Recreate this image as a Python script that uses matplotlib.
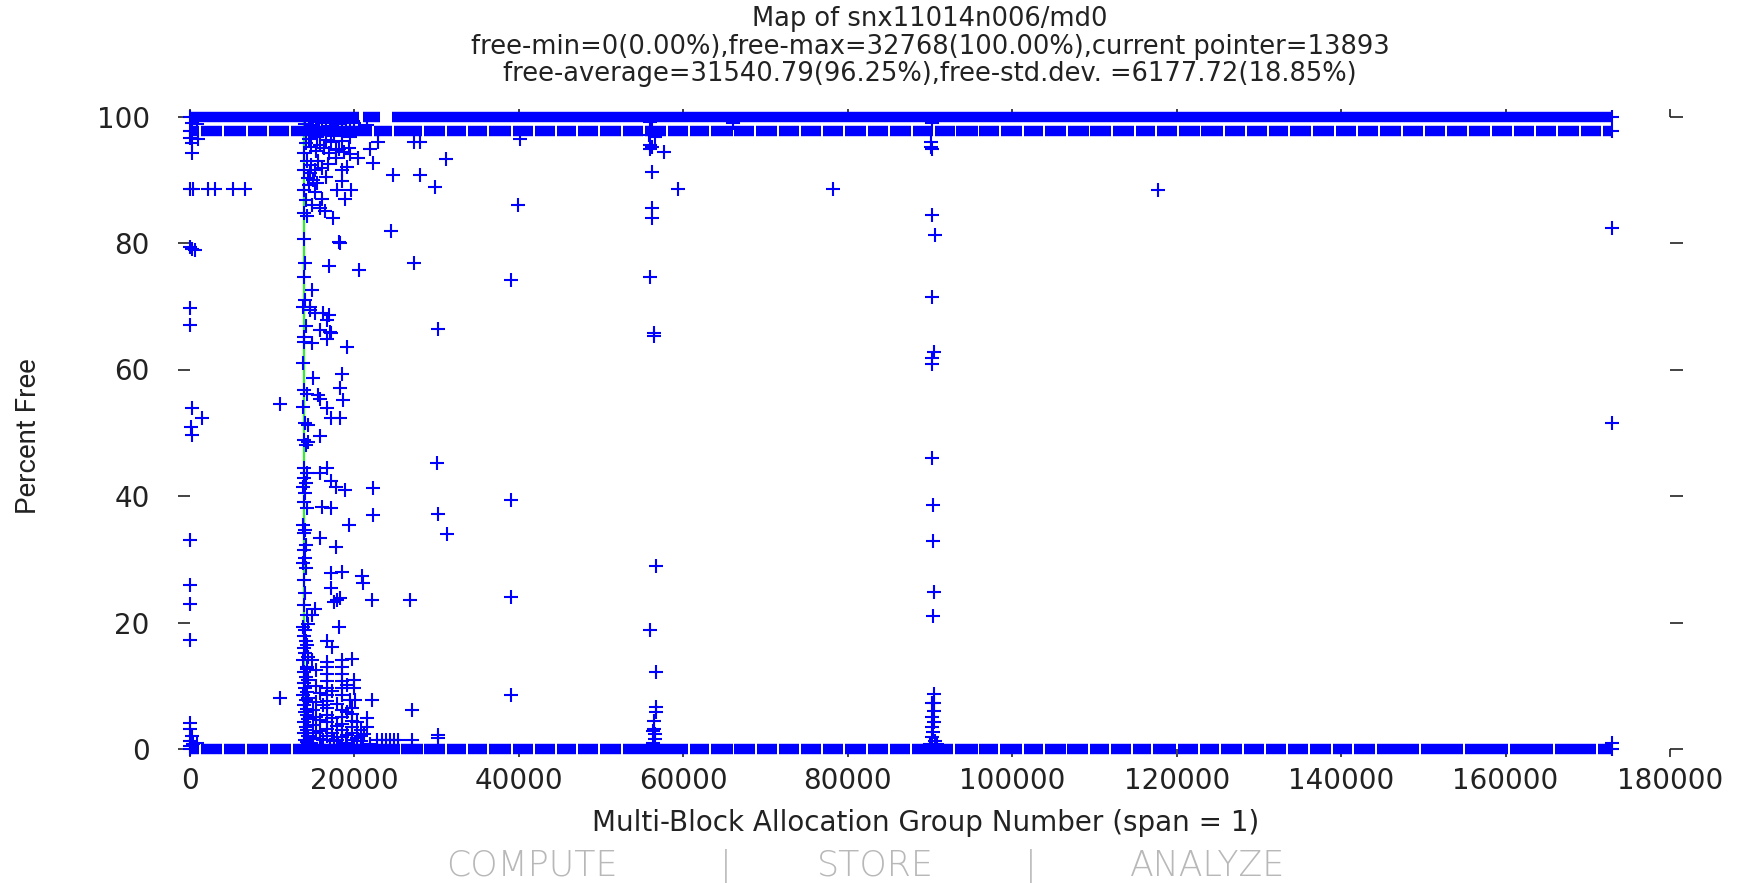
import matplotlib.pyplot as plt

title_lines = [
    "Map of snx11014n006/md0",
    "free-min=0(0.00%),free-max=32768(100.00%),current pointer=13893",
    "free-average=31540.79(96.25%),free-std.dev. =6177.72(18.85%)",
]
x_label = "Multi-Block Allocation Group Number (span = 1)"
y_label = "Percent Free"
footer_words = ["COMPUTE", "|", "STORE", "|", "ANALYZE"]

current_pointer = 13893
last_group = 172900

# long runs of groups sitting at one fill level (drawn as solid runs of markers)
level_full = 100.0
level_97 = 97.66
level_empty = 0.0
gaps_full = [(20500, 21100), (23100, 24600)]
gaps_97 = [1200, 4000, 6900, 9500, 12200, 22200, 24700, 28300, 31100, 33700,
           36300, 39200, 41800, 44500, 47100, 49800, 52500, 55200, 58000, 60700,
           63300, 66100, 68700, 71500, 74200, 76900, 79500, 82300, 85000, 87800,
           90500, 93100, 95900, 98500, 101300, 103900, 106700, 109400, 112100,
           114900, 117500, 120200, 122900, 125700, 128400, 131100, 133700, 136500,
           139200, 141900, 144600, 147400, 150100, 152700, 155400, 158200, 160900,
           163600, 166300, 169100, 171700]
gaps_empty = [1200, 4000, 6800, 9600, 12400, 25600, 28400, 31100, 33700, 36300,
              39200, 41800, 44500, 47100, 49800, 52500, 60700, 63300, 66100, 68800,
              71500, 74200, 76900, 79500, 82300, 85000, 87700, 92900, 95900, 98400,
              101300, 103900, 106600, 109300, 111900, 114600, 117000, 120000, 122700,
              125300, 128100, 130800, 133400, 136100, 138900, 141500, 144300, 149600,
              155000, 160400, 165900, 171100]

# scattered groups (x = group number, y = percent free)
near_origin = [(200, 99.0), (800, 98.8), (0, 96.6), (1000, 96.4), (200, 95.8),
               (200, 94.2), (0, 88.5), (400, 88.5), (2200, 88.5), (3000, 88.5),
               (5200, 88.5), (6700, 88.5), (0, 79.4), (300, 79.1), (600, 78.9),
               (0, 69.7), (0, 67.0), (200, 53.9), (1500, 52.3), (100, 50.9),
               (200, 49.6), (0, 33.0), (0, 25.9), (0, 22.9), (0, 17.3), (0, 4.1),
               (0, 3.2), (200, 2.0), (0, 1.2), (400, 0.8), (800, 1.0), (0, 0.5),
               (11000, 54.6), (11000, 8.0)]

pointer_column = [(14100, 95.8), (13900, 94.2), (14200, 92.9), (13900, 91.5),
                  (14300, 90.2), (13900, 88.4), (14100, 86.8), (13900, 84.7),
                  (14200, 84.2), (13900, 80.7), (14000, 76.8), (13900, 74.7),
                  (14000, 71.0), (13800, 69.9), (14100, 66.8), (13900, 65.2),
                  (13900, 64.4), (13800, 61.0), (13900, 56.8), (14200, 56.2),
                  (13800, 54.1), (14000, 51.5), (14300, 51.2), (13900, 48.9),
                  (14100, 48.1), (13900, 44.4), (14200, 43.6), (13900, 42.8),
                  (14100, 42.0), (13800, 41.5), (14000, 40.4), (13900, 39.1),
                  (14200, 38.1), (13800, 35.4), (14000, 34.6), (13900, 34.1),
                  (14100, 32.3), (13900, 31.5), (14000, 30.2), (13800, 29.4),
                  (14100, 28.6), (13900, 26.7), (14000, 24.6), (13900, 22.8),
                  (14200, 21.2), (13800, 19.3), (14000, 18.8), (13900, 17.8),
                  (14100, 17.0), (13900, 15.9), (14000, 15.1), (13800, 14.1),
                  (14200, 13.0), (13900, 12.2), (14100, 11.4), (13900, 10.4),
                  (14000, 9.6), (13800, 8.5), (14100, 7.8), (13900, 7.0),
                  (14000, 5.9), (14200, 5.4), (13900, 4.3), (14100, 3.5),
                  (13900, 2.5), (14000, 1.4), (14300, 0.8), (14300, 19.8),
                  (14200, 16.5), (14300, 14.6), (14200, 12.6), (14300, 10.9),
                  (14200, 9.0), (14300, 8.1), (14200, 6.4), (14300, 4.8),
                  (14200, 3.0), (14300, 2.0), (14200, 1.1)]

pointer_spread = [(14000, 98.8), (15000, 98.6), (16000, 99.0), (17000, 98.5),
                  (18000, 98.8), (19000, 98.4), (20000, 99.0), (21500, 98.6),
                  (14500, 99.3), (15500, 99.1), (16500, 98.2), (17500, 99.2),
                  (18500, 98.1), (19500, 99.1), (20500, 98.3), (15800, 97.2),
                  (14500, 96.5), (15500, 96.8), (16500, 96.3), (17500, 96.9),
                  (18500, 96.2), (19500, 96.7), (15800, 95.5), (17100, 96.0),
                  (19300, 95.0), (18100, 94.9), (17700, 94.7), (18700, 94.4),
                  (14700, 95.2), (15300, 94.6), (16300, 95.0), (16900, 94.3),
                  (21900, 94.9), (22900, 96.0), (22300, 92.6), (15600, 93.0),
                  (16800, 92.5), (17800, 93.5), (19100, 92.0), (19500, 94.0),
                  (20400, 93.5), (14600, 91.0), (15000, 90.0), (15400, 89.5),
                  (14700, 92.4), (15200, 91.6), (16100, 91.8), (14500, 89.1),
                  (16600, 90.4), (18500, 89.8), (18500, 91.5), (15200, 88.0),
                  (17900, 88.4), (19600, 88.4), (18800, 87.0), (16000, 87.0),
                  (14800, 86.0), (15800, 85.5), (16400, 85.0), (17400, 84.0),
                  (18100, 80.2), (18300, 80.0), (16900, 76.4), (20600, 75.7),
                  (14800, 72.5), (14600, 69.9), (14600, 69.4), (15200, 68.9),
                  (16200, 68.9), (16900, 68.6), (16700, 67.8), (15800, 66.2),
                  (17000, 66.0), (17100, 65.7), (16700, 64.9), (14800, 64.2),
                  (19100, 63.6), (15000, 58.6), (18500, 59.3), (18300, 57.0),
                  (15600, 56.0), (15800, 55.3), (18600, 55.2), (16700, 53.9),
                  (17100, 52.4), (18300, 52.4), (15800, 49.5), (14400, 48.6),
                  (16700, 44.4), (15800, 43.6), (17100, 42.3), (17700, 41.5),
                  (18900, 40.9), (16000, 38.3), (17100, 38.1), (19300, 35.4),
                  (15800, 33.3), (17700, 32.0), (17100, 27.8), (18500, 28.0),
                  (20900, 27.3), (21100, 26.2), (17100, 25.4), (17900, 23.6),
                  (17500, 23.3), (18300, 23.8), (15200, 22.2), (14800, 21.2),
                  (18100, 19.3), (16700, 17.0), (17300, 16.2), (14800, 14.1),
                  (16700, 13.8), (19700, 14.3), (19900, 10.9), (19900, 9.6),
                  (19500, 7.8), (20100, 7.8), (21500, 4.9), (21500, 3.5),
                  (22100, 7.7), (22300, 41.2), (22300, 37.0), (22100, 23.5)]

pointer_floor = [(16700, 13.0), (16700, 11.8), (16700, 10.8), (16700, 9.7),
                 (16700, 8.6), (16700, 7.6), (16700, 6.5), (16700, 5.4),
                 (16700, 4.3), (16700, 3.2), (16700, 2.1), (18500, 14.1),
                 (18500, 13.0), (18500, 11.9), (18500, 10.8), (18500, 9.6),
                 (18500, 8.5), (18500, 6.2), (18500, 5.1), (18500, 4.0),
                 (18500, 3.0), (18500, 1.9), (15300, 12.5), (15300, 10.0),
                 (15300, 7.5), (15300, 5.0), (15300, 2.5), (19700, 6.5),
                 (19700, 5.5), (19700, 4.5), (19700, 3.5), (19700, 2.5),
                 (19700, 1.5), (20800, 3.0), (20800, 2.0), (20800, 1.2),
                 (14900, 6.2), (14900, 3.8), (14900, 1.8), (15800, 8.8),
                 (15800, 4.6), (15800, 2.9), (16200, 6.9), (16200, 1.4),
                 (17300, 9.2), (17300, 4.9), (17300, 2.6), (17900, 7.1),
                 (17900, 3.6), (17900, 1.5), (19100, 10.1), (19100, 5.8),
                 (19100, 2.2), (20300, 4.2), (20300, 1.8), (21200, 2.4),
                 (14700, 1.0), (15800, 1.6), (17500, 1.2), (19000, 0.9),
                 (15000, 0.6), (16000, 0.5), (17000, 0.7), (18000, 0.6),
                 (20000, 0.7), (21000, 0.6), (21900, 0.8),
                 (22800, 1.4), (23300, 1.4), (23800, 1.4), (24300, 1.4),
                 (24800, 1.4), (25300, 1.4)]

middle_groups = [(24700, 90.7), (28000, 90.7), (29800, 88.8), (31100, 93.3),
                 (24500, 81.9), (27200, 76.9), (30200, 66.4), (30000, 45.2),
                 (30200, 37.2), (31300, 34.0), (26800, 23.5), (27000, 6.2),
                 (30200, 2.2), (30200, 1.7), (27000, 1.4), (27200, 96.0),
                 (28000, 96.0), (39100, 74.2), (39900, 86.0), (39100, 39.3),
                 (39100, 24.1), (39100, 8.5), (40100, 96.5)]

column_56k = [(55800, 97.0), (56200, 98.2), (56500, 96.8), (56000, 99.2),
              (56000, 95.5), (56000, 94.9), (56200, 95.2), (57700, 94.4),
              (56200, 91.3), (59300, 88.5), (56200, 85.5), (56200, 84.0),
              (56000, 74.6), (56400, 65.8), (56400, 65.3), (56700, 29.0),
              (56000, 18.8), (56700, 12.2), (56700, 6.7), (56700, 5.8),
              (56400, 4.5), (56400, 3.2), (56500, 2.3), (56500, 1.6),
              (56300, 2.8), (56300, 1.0)]

column_90k = [(90300, 99.0), (90100, 96.0), (90100, 95.2), (90300, 94.9),
              (90200, 84.4), (90600, 81.2), (90200, 71.5), (90200, 61.8),
              (90500, 62.7), (90200, 60.9), (90200, 46.0), (90400, 38.6),
              (90400, 32.9), (90500, 24.9), (90400, 21.0), (90500, 8.7),
              (90500, 7.3), (90300, 7.2), (90500, 6.0), (90300, 5.0),
              (90500, 4.3), (90300, 3.5), (90400, 2.7), (90200, 1.9),
              (90600, 1.2), (90000, 0.8), (90800, 0.8)]

far_groups = [(66100, 99.0), (78200, 88.5), (117700, 88.4), (172900, 82.3),
              (172900, 51.6), (172900, 0.9)]

BLUE = "#0000ff"
INK = "#222222"

fig = plt.figure(figsize=(17.39, 8.83), dpi=100)
ax = fig.add_axes([190 / 1739, 1 - 749 / 883, 1480 / 1739, 632.5 / 883])
ax.set_xlim(0, 180000)
ax.set_ylim(0, 100)

ax.axvline(current_pointer, color="#33ee33", lw=1.6, zorder=1)


def runs(gaps):
    edges = [0] + [v for g in gaps for v in g] + [last_group]
    return edges[0::2], edges[1::2]


half = 120
for level, gaps in [(level_full, gaps_full),
                    (level_97, [(g - half, g + half) for g in gaps_97]),
                    (level_empty, [(g - half, g + half) for g in gaps_empty])]:
    starts, ends = runs(gaps)
    ax.hlines([level] * len(starts), starts, ends, colors=BLUE, lw=7.5,
              capstyle="butt", zorder=3, clip_on=False)
    ax.plot([0, last_group], [level, level], "+", color=BLUE, ms=10, mew=1.5,
            clip_on=False, zorder=3)

for group in [near_origin, pointer_column, pointer_spread, pointer_floor,
              middle_groups, column_56k, column_90k, far_groups]:
    xs = [p[0] for p in group]
    ys = [p[1] for p in group]
    ax.plot(xs, ys, "+", ls="none", color=BLUE, ms=10, mew=1.5,
            clip_on=False, zorder=3)

for side in ax.spines.values():
    side.set_visible(False)
ax.set_xticks(range(0, 180001, 20000))
ax.set_yticks(range(0, 101, 20))
ax.tick_params(axis="x", direction="out", length=6, width=1.2, top=True,
               labelsize=20, pad=7, colors=INK)
ax.tick_params(axis="y", direction="out", length=9, width=1.2, right=True,
               labelsize=20, pad=20, colors=INK)

tx = (190 + 1670) / 2 / 1739
for line, ypix in zip(title_lines, [19, 47, 74]):
    fig.text(tx, 1 - ypix / 883, line, ha="center", va="center", fontsize=18.5,
             color=INK)
fig.text(926 / 1739, 1 - 823 / 883, x_label, ha="center", va="center",
         fontsize=20, color=INK)
fig.text(28 / 1739, 1 - 436 / 883, y_label, ha="center", va="center",
         rotation=90, fontsize=20, color=INK, family=["Roboto", "DejaVu Sans"])

for word, xpix in zip(footer_words, [532, 726, 875, 1031, 1208]):
    fig.text(xpix / 1739, 1 - 866 / 883, word, ha="center", va="center",
             fontsize=25, fontweight="light", color="#b8b8b8")

fig.savefig("out.png", dpi=100, facecolor="white")
